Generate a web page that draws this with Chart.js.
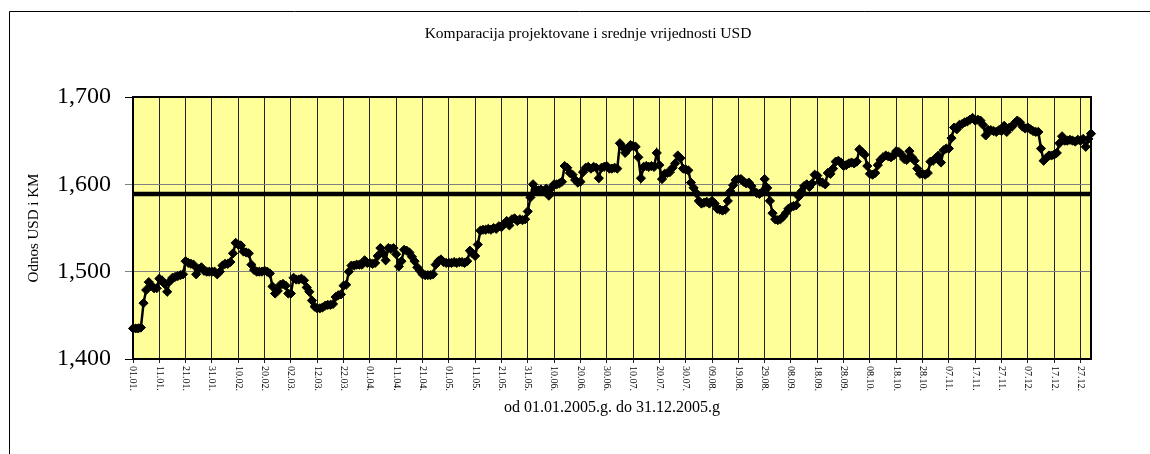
<!DOCTYPE html>
<html>
<head>
<meta charset="utf-8">
<title>Komparacija projektovane i srednje vrijednosti USD</title>
<script src="https://cdn.jsdelivr.net/npm/chart.js@4.4.0/dist/chart.umd.min.js"></script>
<style>
  html, body { margin: 0; padding: 0; background: #fff; }
  #wrap { width: 1150px; height: 454px; }
</style>
</head>
<body>
<div id="wrap"><canvas id="usdChart" width="1150" height="454"></canvas></div>
<script>
// Srednji kurs USD (KM za 1 USD) po danima, 2005. - procitano s grafika
const jan = [1.435, 1.435, 1.435, 1.436, 1.464, 1.479, 1.488, 1.484, 1.481, 1.481,
             1.492, 1.490, 1.486, 1.477, 1.489, 1.493, 1.494, 1.495, 1.496, 1.497,
             1.512, 1.510, 1.509, 1.508, 1.497, 1.503, 1.505, 1.501, 1.500, 1.500, 1.500];
const feb = [1.500, 1.497, 1.500, 1.507, 1.509, 1.509, 1.511, 1.521, 1.533, 1.531,
             1.530, 1.523, 1.522, 1.521, 1.508, 1.502, 1.500, 1.500, 1.500, 1.501,
             1.500, 1.498, 1.483, 1.475, 1.478, 1.485, 1.486, 1.484];
const mar = [1.475, 1.475, 1.493, 1.491, 1.491, 1.492, 1.490, 1.482, 1.477, 1.467,
             1.460, 1.458, 1.458, 1.459, 1.461, 1.462, 1.462, 1.463, 1.471, 1.473,
             1.474, 1.484, 1.485, 1.500, 1.507, 1.507, 1.508, 1.508, 1.508, 1.513, 1.510];
const apr = [1.510, 1.509, 1.510, 1.518, 1.527, 1.521, 1.513, 1.527, 1.526, 1.527,
             1.520, 1.506, 1.512, 1.525, 1.524, 1.522, 1.517, 1.512, 1.505, 1.501,
             1.497, 1.496, 1.496, 1.496, 1.497, 1.508, 1.512, 1.514, 1.511, 1.510];
const may = [1.510, 1.510, 1.511, 1.510, 1.511, 1.511, 1.510, 1.512, 1.524, 1.521,
             1.518, 1.531, 1.547, 1.548, 1.548, 1.549, 1.548, 1.550, 1.549, 1.552,
             1.551, 1.555, 1.558, 1.553, 1.560, 1.561, 1.558, 1.560, 1.559, 1.560, 1.569];
const jun = [1.585, 1.600, 1.594, 1.593, 1.594, 1.592, 1.595, 1.587, 1.596, 1.600,
             1.600, 1.601, 1.603, 1.621, 1.619, 1.613, 1.611, 1.605, 1.602, 1.603,
             1.614, 1.619, 1.620, 1.618, 1.620, 1.619, 1.607, 1.619, 1.620, 1.621];
const jul = [1.618, 1.618, 1.619, 1.618, 1.647, 1.643, 1.636, 1.640, 1.645, 1.644,
             1.643, 1.631, 1.607, 1.620, 1.621, 1.620, 1.621, 1.620, 1.636, 1.622,
             1.606, 1.612, 1.613, 1.614, 1.619, 1.624, 1.633, 1.630, 1.618, 1.617, 1.616];
const aug = [1.602, 1.596, 1.590, 1.581, 1.578, 1.579, 1.580, 1.578, 1.581, 1.578,
             1.572, 1.571, 1.570, 1.571, 1.581, 1.592, 1.599, 1.605, 1.606, 1.606,
             1.603, 1.601, 1.602, 1.598, 1.592, 1.590, 1.589, 1.591, 1.606, 1.596, 1.581];
const sep = [1.567, 1.560, 1.559, 1.560, 1.563, 1.567, 1.572, 1.574, 1.575, 1.576,
             1.586, 1.592, 1.598, 1.600, 1.597, 1.601, 1.611, 1.610, 1.603, 1.602,
             1.600, 1.613, 1.612, 1.618, 1.626, 1.627, 1.625, 1.621, 1.622, 1.624];
const oct = [1.625, 1.624, 1.626, 1.640, 1.637, 1.634, 1.621, 1.612, 1.611, 1.613,
             1.622, 1.628, 1.631, 1.633, 1.632, 1.631, 1.633, 1.638, 1.637, 1.634,
             1.629, 1.628, 1.638, 1.631, 1.627, 1.618, 1.612, 1.612, 1.611, 1.613, 1.626];
const nov = [1.627, 1.630, 1.633, 1.625, 1.639, 1.641, 1.641, 1.653, 1.665, 1.663,
             1.668, 1.669, 1.671, 1.672, 1.674, 1.676, 1.673, 1.674, 1.673, 1.668,
             1.656, 1.662, 1.662, 1.661, 1.660, 1.662, 1.661, 1.667, 1.660, 1.665];
const dec = [1.666, 1.670, 1.673, 1.671, 1.666, 1.664, 1.665, 1.663, 1.661, 1.660,
             1.660, 1.641, 1.627, 1.630, 1.633, 1.633, 1.634, 1.636, 1.647, 1.655,
             1.650, 1.650, 1.651, 1.650, 1.649, 1.651, 1.650, 1.652, 1.643, 1.652, 1.658];

const usdRate = [].concat(jan, feb, mar, apr, may, jun, jul, aug, sep, oct, nov, dec);

// Projektovana vrijednost (debela horizontalna linija)
const projectedRate = 1.589;

// Oznake na x osi (svakih 10 dana)
const tickEvery = 10;
const tickLabels = ['01.01.', '11.01.', '21.01.', '31.01.', '10.02.', '20.02.', '02.03.', '12.03.',
                    '22.03.', '01.04.', '11.04.', '21.04.', '01.05.', '11.05.', '21.05.', '31.05.',
                    '10.06.', '20.06.', '30.06.', '10.07.', '20.07.', '30.07.', '09.08.', '19.08.',
                    '29.08.', '08.09.', '18.09.', '28.09.', '08.10.', '18.10.', '28.10.', '07.11.',
                    '17.11.', '27.11.', '07.12.', '17.12.', '27.12.'];

// Dani u godini kao kategorije
const dayLabels = [];
for (let i = 0; i < usdRate.length; i++) {
    const d = new Date(2005, 0, 1 + i);
    dayLabels.push(String(d.getDate()).padStart(2, '0') + '.' + String(d.getMonth() + 1).padStart(2, '0') + '.');
}

const serif = "'Liberation Serif', 'Times New Roman', serif";

// Pozadina, okvir i zuto polje grafika
const plotFrame = {
    id: 'plotFrame',
    beforeDraw(chart) {
        const { ctx, chartArea: a } = chart;
        ctx.save();
        ctx.fillStyle = '#fff';
        ctx.fillRect(0, 0, chart.width, chart.height);
        ctx.strokeStyle = '#000';
        ctx.lineWidth = 1;
        ctx.beginPath();
        ctx.moveTo(9.5, chart.height);
        ctx.lineTo(9.5, 11.5);
        ctx.lineTo(chart.width, 11.5);
        ctx.stroke();
        ctx.fillStyle = '#ffff99';
        ctx.fillRect(a.left, a.top, a.width, a.height);
        ctx.restore();
    },
    beforeDatasetsDraw(chart) {
        const { ctx, chartArea: a } = chart;
        ctx.save();
        ctx.strokeStyle = '#000';
        ctx.lineWidth = 2;
        ctx.strokeRect(a.left, a.top, a.width, a.height);
        ctx.restore();
    }
};

// Datumi ispod x ose, okrenuti za 90 stepeni
const xTickText = {
    id: 'xTickText',
    afterDraw(chart) {
        const ctx = chart.ctx;
        const xScale = chart.scales.x;
        ctx.save();
        ctx.font = '10px ' + serif;
        ctx.fillStyle = '#000';
        ctx.textAlign = 'left';
        ctx.textBaseline = 'middle';
        tickLabels.forEach(function(label, k) {
            const x = xScale.getPixelForValue(k * tickEvery);
            ctx.save();
            ctx.translate(x, chart.chartArea.bottom + 7);
            ctx.rotate(Math.PI / 2);
            ctx.fillText(label, 0, 0);
            ctx.restore();
        });
        ctx.restore();
    }
};

const context = document.getElementById('usdChart').getContext('2d');
new Chart(context, {
    type: 'line',
    data: {
        labels: dayLabels,
        datasets: [{
            label: 'Srednja vrijednost USD',
            data: usdRate,
            borderColor: '#000',
            borderWidth: 2.5,
            pointStyle: 'rectRot',
            pointRadius: 4.6,
            pointBackgroundColor: '#000',
            pointBorderColor: '#000',
            pointBorderWidth: 1,
            tension: 0,
            clip: false
        }, {
            label: 'Projektovana vrijednost USD',
            data: dayLabels.map(function() { return projectedRate; }),
            borderColor: '#000',
            borderWidth: 4.5,
            pointRadius: 0,
            tension: 0,
            clip: false
        }]
    },
    options: {
        responsive: false,
        animation: false,
        layout: { padding: { left: 26, right: 0, top: 0, bottom: 0 } },
        plugins: {
            legend: { display: false },
            tooltip: { enabled: false },
            title: {
                display: true,
                text: 'Komparacija projektovane i srednje vrijednosti USD',
                color: '#000',
                font: { family: serif, size: 15.5, weight: 'normal' },
                padding: { top: 25, bottom: 53.4 }
            }
        },
        scales: {
            x: {
                type: 'category',
                afterFit: function(scale) { scale.height = 95; },
                border: { display: false },
                grid: {
                    color: function(c) { return c.index % tickEvery === 0 ? '#222' : 'rgba(0,0,0,0)'; },
                    lineWidth: 1,
                    tickLength: 4
                },
                ticks: { display: false, autoSkip: false },
                title: {
                    display: true,
                    text: 'od 01.01.2005.g. do 31.12.2005.g',
                    color: '#000',
                    font: { family: serif, size: 16 },
                    padding: { top: 0, bottom: 36.5 }
                }
            },
            y: {
                min: 1.4,
                max: 1.7,
                afterFit: function(scale) { scale.width = 107; },
                border: { display: false },
                grid: {
                    color: function(c) {
                        const v = c.tick ? c.tick.value : 0;
                        return (v > 1.45 && v < 1.65) ? '#808080' : '#000';
                    },
                    lineWidth: 1,
                    tickLength: 8
                },
                ticks: {
                    stepSize: 0.1,
                    padding: 14,
                    color: '#000',
                    font: { family: serif, size: 24 },
                    callback: function(value) { return value.toFixed(3).replace('.', ','); }
                },
                title: {
                    display: true,
                    text: 'Odnos USD i KM',
                    color: '#000',
                    font: { family: serif, size: 15 },
                    padding: { top: -1, bottom: 0 }
                }
            },
            // prazan prostor desno od grafika
            yRight: {
                position: 'right',
                min: 1.4,
                max: 1.7,
                afterFit: function(scale) { scale.width = 59; },
                border: { display: false },
                grid: { display: false },
                ticks: { display: false }
            }
        }
    },
    plugins: [plotFrame, xTickText]
});
</script>
</body>
</html>
